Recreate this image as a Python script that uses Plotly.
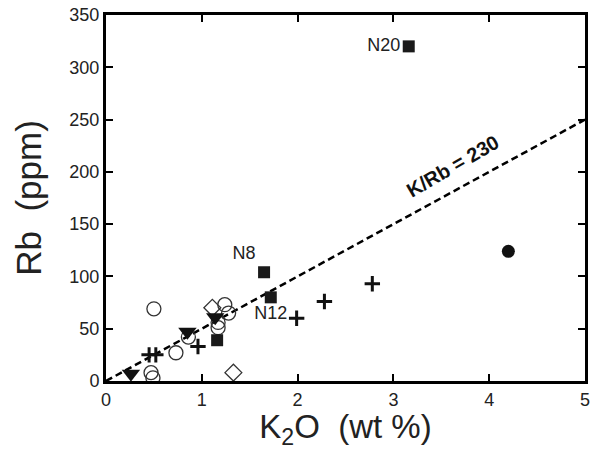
import plotly.graph_objects as go

# ---- data ----
sq_x = [3.16, 1.65, 1.72, 1.16]
sq_y = [320, 104, 80, 39]
sq_lab = ["N20", "N8", "N12", ""]

fc_x = [4.2]
fc_y = [124]

plus_x = [2.78, 2.28, 1.99, 0.96, 0.52, 0.45]
plus_y = [93, 76, 60, 33, 25, 25]

oc_x = [0.50, 1.24, 1.28, 1.17, 1.17, 0.73, 0.47, 0.49, 0.86]
oc_y = [69, 73, 65, 56, 51, 27, 8, 3, 42]

tri_x = [0.26, 0.85, 1.14]
tri_y = [7, 47, 61]

dia_x = [1.11, 1.33]
dia_y = [70, 8]

line_x = [0, 5]
line_y = [0, 250]

x_ticks = [0, 1, 2, 3, 4, 5]
y_ticks = [0, 50, 100, 150, 200, 250, 300, 350]

font = "Liberation Sans, Arial, sans-serif"

fig = go.Figure()
fig.add_trace(go.Scatter(x=line_x, y=line_y, mode="lines",
                         line=dict(color="black", width=2.5, dash="7px,4px")))
fig.add_trace(go.Scatter(x=oc_x, y=oc_y, mode="markers",
                         marker=dict(symbol="circle-open", size=14, color="#333",
                                     line=dict(width=1.3))))
fig.add_trace(go.Scatter(x=dia_x, y=dia_y, mode="markers",
                         marker=dict(symbol="diamond-open", size=13, color="#333",
                                     line=dict(width=1.3))))
fig.add_trace(go.Scatter(x=tri_x, y=tri_y, mode="markers",
                         marker=dict(symbol="triangle-down", size=16, color="#111")))
fig.add_trace(go.Scatter(x=plus_x, y=plus_y, mode="markers",
                         marker=dict(symbol="cross-thin-open", size=11, color="#111",
                                     line=dict(width=3, color="#111"))))
fig.add_trace(go.Scatter(x=fc_x, y=fc_y, mode="markers",
                         marker=dict(symbol="circle", size=13, color="#111")))
fig.add_trace(go.Scatter(x=sq_x, y=sq_y, mode="markers+text", text=sq_lab,
                         textposition=["middle left", "top left", "bottom center", "middle left"],
                         textfont=dict(family=font, size=18, color="#222"),
                         marker=dict(symbol="square", size=12, color="#1a1a1a")))

fig.add_annotation(x=3.62, y=206, text="<b>K/Rb = 230</b>", showarrow=False,
                   textangle=-30, font=dict(family=font, size=20, color="#111"))

axis_common = dict(showline=True, linecolor="black", linewidth=3, mirror="ticks",
                   ticks="inside", ticklen=7, tickwidth=1.5, tickcolor="black",
                   showgrid=False, zeroline=False, automargin=False,
                   tickfont=dict(family=font, size=18, color="#222"))

fig.update_layout(
    width=595, height=450,
    margin=dict(l=106, r=10, t=15, b=69),
    paper_bgcolor="white", plot_bgcolor="white",
    showlegend=False,
    xaxis=dict(range=[0, 5], tickvals=x_ticks,
               title=dict(text="K<sub>2</sub>O  (wt %)", font=dict(family=font, size=33, color="#222"),
                          standoff=0),
               **axis_common),
    yaxis=dict(range=[0, 350], tickvals=y_ticks,
               title=dict(text="Rb  (ppm)", font=dict(family=font, size=35, color="#222"),
                          standoff=18),
               **axis_common),
)

fig.write_html("out.html", config={"displayModeBar": False},
               post_script="document.body.style.margin='0';")
